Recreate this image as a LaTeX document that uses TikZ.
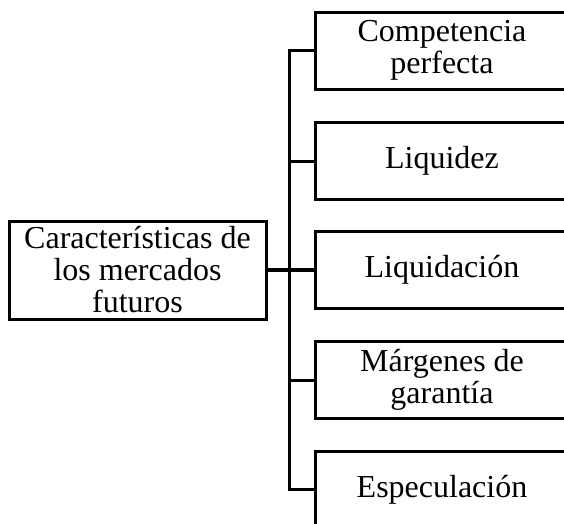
\documentclass[tikz,border=0pt]{standalone}
\usepackage{fontspec}
\setmainfont{Liberation Serif}
\begin{document}
\begin{tikzpicture}[x=1pt,y=-1pt,
  box/.style={draw, line width=3pt, rectangle, align=center, inner sep=0pt,
    font=\fontsize{32}{32}\selectfont},
  rbox/.style={box, minimum width=254pt, minimum height=77pt},
  lbox/.style={box, minimum width=257pt, minimum height=98pt},
  conn/.style={line width=3pt}]
\useasboundingbox (0,0) rectangle (564,523);
\clip (0,0) rectangle (564,523);
\node[lbox] (L) at (137.5,270) {Características de\\los mercados\\futuros};
\node[rbox] (A) at (442,50.5) {Competencia\\perfecta};
\node[rbox] (B) at (442,161) {Liquidez};
\node[rbox] (C) at (442,270) {Liquidación};
\node[rbox] (D) at (442,380) {Márgenes de\\garantía};
\node[rbox] (E) at (442,489.5) {Especulación};
\draw[conn] (A.west) -- ++(-24,0) |- (E.west);
\draw[conn] (B.west) -- ++(-24,0);
\draw[conn] (D.west) -- ++(-24,0);
\draw[conn, line width=3.5pt] (L.east) -- (C.west);
\end{tikzpicture}
\end{document}
